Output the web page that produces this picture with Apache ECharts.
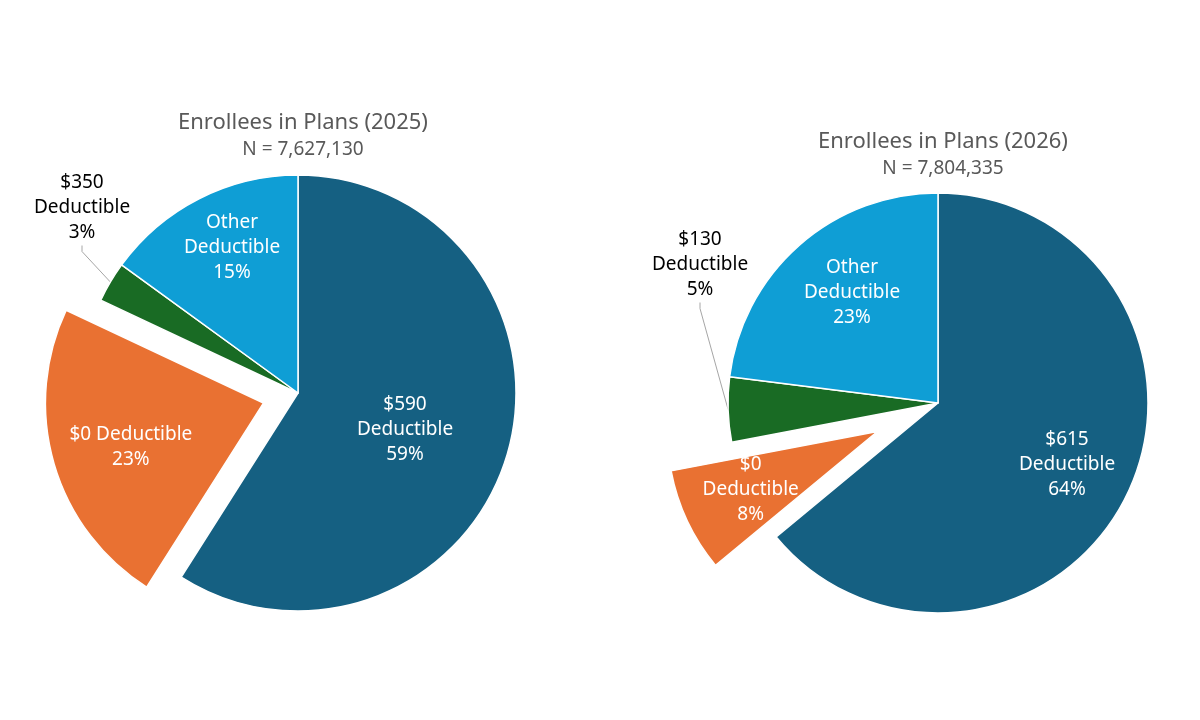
<!DOCTYPE html>
<html>
<head>
<meta charset="utf-8">
<script src="https://cdn.jsdelivr.net/npm/echarts@6/dist/echarts.min.js"></script>
<style>
html, body { margin: 0; background: #fff; }
#chart { width: 1200px; height: 720px; }
</style>
</head>
<body>
<div id="chart"></div>
<script>
// deductible groups, clockwise from 12 o'clock
var names2025 = ['$590\nDeductible', '$0 Deductible', '$350\nDeductible', 'Other\nDeductible'];
var share2025 = [59, 23, 3, 15];
var names2026 = ['$615\nDeductible', '$0\nDeductible', '$130\nDeductible', 'Other\nDeductible'];
var share2026 = [64, 8, 5, 23];
var titles = ['Enrollees in Plans (2025)', 'Enrollees in Plans (2026)'];
var totals = ['N = 7,627,130', 'N = 7,804,335'];

var colors = ['#156082', '#E97132', '#196B24', '#0F9ED5'];
var FONT = 'Noto Sans';
var explodeIdx = 1;   // the $0 slice is pulled out
var outsideIdx = 2;   // the small green slice has its label outside

// where Excel put each label (text block centre)
var spots2025 = [[405, 430], null, [82, 208], [232, 248]];
var spots2026 = [[1067, 465], null, [700, 265], [852, 293]];
// the exploded slice keeps its own label spot, so nudge it left with padding
// and down with an empty first line
var nudge2025 = [0, 50, 0, 0];
var nudge2026 = [0, 58, 0, 0];

function buildData(names, vals, nudge) {
  return vals.map(function (v, i) {
    var item = { name: names[i], value: v, itemStyle: { color: colors[i] } };
    if (i === explodeIdx) {
      item.selected = true;
      item.label = { padding: nudge, formatter: ' \n{b}\n{c}%' };
    }
    if (i === outsideIdx) {
      item.label = { position: 'outside', color: '#000' };
    }
    return item;
  });
}

function pieSeries(names, vals, center, radius, offset, spots, nudge) {
  return {
    type: 'pie',
    center: center,
    radius: [0, radius],
    startAngle: 90,
    clockwise: true,
    selectedMode: 'single',
    selectedOffset: offset,
    avoidLabelOverlap: false,
    emphasis: { disabled: true },
    itemStyle: { borderColor: '#fff', borderWidth: 1.5 },
    label: {
      show: true,
      position: 'inside',
      color: '#fff',
      fontFamily: FONT,
      fontSize: 19,
      lineHeight: 25,
      align: 'center',
      formatter: '{b}\n{c}%'
    },
    labelLine: {
      show: true,
      length: 10,
      length2: 6,
      lineStyle: { color: '#A6A6A6', width: 1 }
    },
    labelLayout: function (p) {
      var s = spots[p.dataIndex];
      if (!s) return {};
      return { x: s[0], y: s[1], align: 'center', verticalAlign: 'middle' };
    },
    data: buildData(names, vals, nudge)
  };
}

function titleBlock(i, x, top) {
  return {
    text: titles[i],
    subtext: totals[i],
    left: x,
    top: top,
    textAlign: 'center',
    itemGap: 3,
    textStyle: { fontFamily: FONT, fontSize: 22, fontWeight: 'normal', color: '#595959', lineHeight: 26 },
    subtextStyle: { fontFamily: FONT, fontSize: 19, color: '#595959', lineHeight: 22 }
  };
}

var chart = echarts.init(document.getElementById('chart'));
chart.setOption({
  backgroundColor: '#fff',
  animation: false,
  title: [titleBlock(0, 298, 105), titleBlock(1, 938, 124)],
  series: [
    pieSeries(names2025, share2025, [298, 393], 218, 36, spots2025, nudge2025),
    pieSeries(names2026, share2026, [938, 403], 210, 67, spots2026, nudge2026)
  ]
});
</script>
</body>
</html>
